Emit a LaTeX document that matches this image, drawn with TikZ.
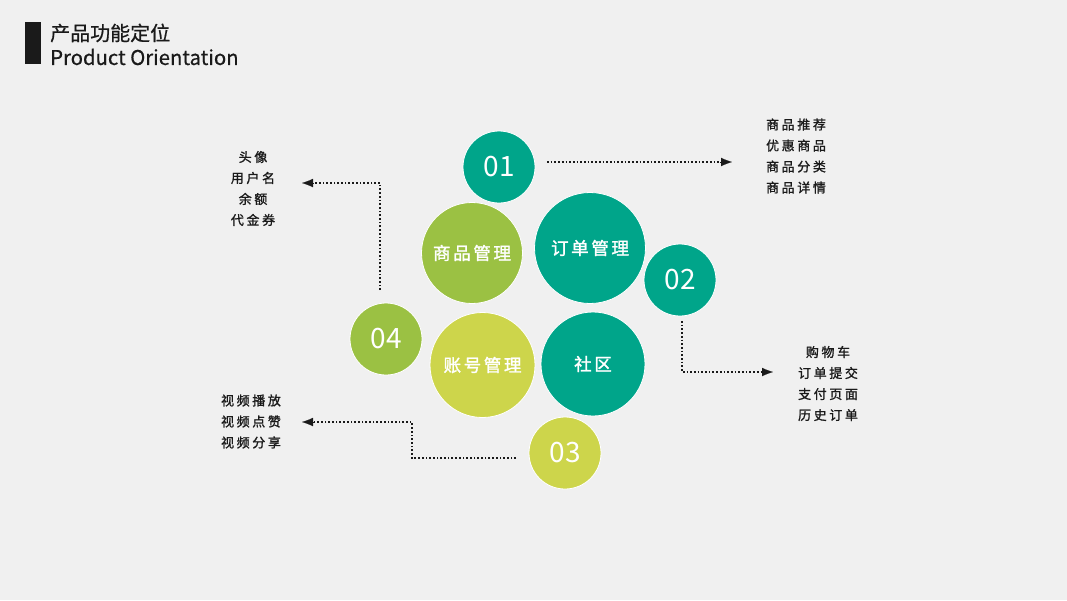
\documentclass[tikz,border=0pt]{standalone}
\usepackage{fontspec}
\setmainfont{Noto Sans CJK SC}
\newfontfamily\titlefont[FakeBold=0.6]{Noto Sans CJK SC}
\newfontfamily\circfont[LetterSpace=15,FakeBold=1.6]{Noto Sans CJK SC}
\newfontfamily\sidefont[LetterSpace=20,FakeBold=1.2]{Noto Sans CJK SC}
\usetikzlibrary{arrows.meta}
\definecolor{bg}{HTML}{F0F0F0}
\definecolor{teal}{HTML}{00A58A}
\definecolor{leaf}{HTML}{9BC143}
\definecolor{lime}{HTML}{CDD54B}
\definecolor{ink}{HTML}{1A1A1A}
\tikzset{
  bubble/.style={circle, draw=white, line width=0.8pt, inner sep=0pt, minimum size=#1, text=white},
  numtxt/.style={font=\fontsize{28}{30}\selectfont},
  cirtxt/.style={font=\circfont\fontsize{17.5}{20}\selectfont},
  sidetxt/.style={font=\sidefont\fontsize{13}{21}\selectfont, text=ink, align=center, inner sep=0pt},
  conn/.style={dotted, line width=1.7pt, ink, shorten >=6pt},
  tiphead/.style={solid, line width=0.1pt, ink, -{Latex[length=11pt,width=8.5pt]}},
}
\begin{document}
\begin{tikzpicture}[x=1pt,y=-1pt]
\fill[bg] (0,0) rectangle (1067,600);
\useasboundingbox (0,0) rectangle (1067,600);
% header
\fill[ink] (25,22) rectangle (41,64);
\node[anchor=west, inner sep=0pt, text=ink, font=\titlefont\fontsize{20}{22}\selectfont] (title) at (50,33) {产品功能定位};
\node[anchor=west, inner sep=0pt, text=ink, font=\titlefont\fontsize{20.3}{22}\selectfont] (subtitle) at (50,57) {Product Orientation};
% bubbles
\node[bubble=72pt, fill=teal, numtxt] (c01) at (499,167) {01};
\node[bubble=101pt, fill=leaf, cirtxt] (goods) at (472,253) {商品管理};
\node[bubble=111pt, fill=teal, cirtxt] (order) at (590,248) {订单管理};
\node[bubble=72pt, fill=teal, numtxt] (c02) at (680,280) {02};
\node[bubble=72pt, fill=leaf, numtxt] (c04) at (386,339) {04};
\node[bubble=105pt, fill=lime, cirtxt] (account) at (482.5,365) {账号管理};
\node[bubble=104pt, fill=teal, cirtxt] (comm) at (593,364) {社区};
\node[bubble=72pt, fill=lime, numtxt] (c03) at (565,453) {03};
% side texts
\node[sidetxt] (t01) at (796,156) {商品推荐\\优惠商品\\商品分类\\商品详情};
\node[sidetxt] (t04) at (253,188.5) {头像\\用户名\\余额\\代金券};
\node[sidetxt] (t02) at (828,383.5) {购物车\\订单提交\\支付页面\\历史订单};
\node[sidetxt] (t03) at (251,421.5) {视频播放\\视频点赞\\视频分享};
% connector points
\coordinate (s01) at (547,162);
\coordinate (p01) at (720,162);
\coordinate (e01) at (732,162);
\coordinate (s04) at (380,290);
\coordinate (k04) at (380,183);
\coordinate (p04) at (314,183);
\coordinate (e04) at (302,183);
\coordinate (s02) at (682,321);
\coordinate (k02) at (682,372);
\coordinate (p02) at (761,372);
\coordinate (e02) at (773,372);
\coordinate (s03) at (516,458);
\coordinate (k03a) at (412,458);
\coordinate (k03b) at (412,422);
\coordinate (p03) at (314,422);
\coordinate (e03) at (302,422);
\draw[conn] (s01) -- (e01);
\draw[conn] (s04) -- (k04) -- (e04);
\draw[conn] (s02) -- (k02) -- (e02);
\draw[conn] (s03) -- (k03a) -- (k03b) -- (e03);
\draw[tiphead] (p01) -- (e01);
\draw[tiphead] (p04) -- (e04);
\draw[tiphead] (p02) -- (e02);
\draw[tiphead] (p03) -- (e03);
\end{tikzpicture}
\end{document}
